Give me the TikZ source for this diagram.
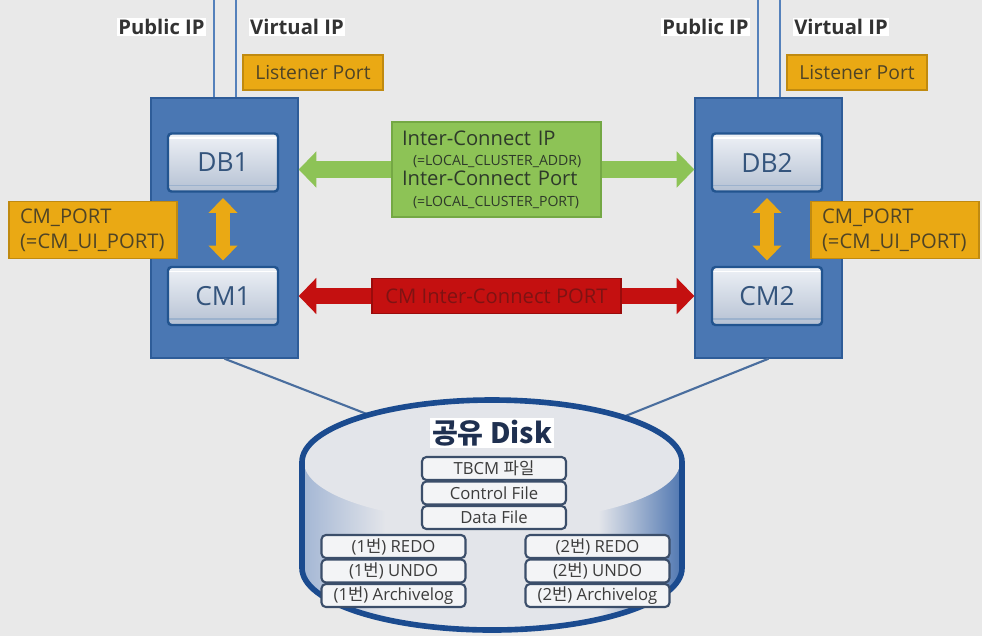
\documentclass[tikz,border=0pt]{standalone}
\usepackage{fontspec}
\setmainfont{Open Sans}
\newfontfamily\kr{Noto Sans CJK KR}
\usepackage{tikz}
\usetikzlibrary{arrows.meta, positioning}
\definecolor{bgGray}{HTML}{E9E9E9}
\definecolor{srvBlue}{HTML}{4A77B3}
\definecolor{srvEdge}{HTML}{2E5C98}
\definecolor{procTop}{HTML}{EEF1F6}
\definecolor{procBot}{HTML}{B5C1D3}
\definecolor{procEdge}{HTML}{22548F}
\definecolor{procText}{HTML}{34547C}
\definecolor{tagOrange}{HTML}{EAA914}
\definecolor{tagEdge}{HTML}{C08A10}
\definecolor{tagText}{HTML}{4F4426}
\definecolor{icGreen}{HTML}{8DC356}
\definecolor{icEdge}{HTML}{74A844}
\definecolor{icText}{HTML}{2E3A2A}
\definecolor{cmRed}{HTML}{C41010}
\definecolor{cmEdge}{HTML}{9A0B0B}
\definecolor{cmText}{HTML}{7E1313}
\definecolor{diskEdge}{HTML}{1B4B8F}
\definecolor{diskFace}{HTML}{E3E5EA}
\definecolor{diskTitle}{HTML}{1F3050}
\definecolor{sideL}{HTML}{A3B6D4}
\definecolor{sideR}{HTML}{5077B1}
\definecolor{fileFill}{HTML}{F3F4F6}
\definecolor{fileEdge}{HTML}{3B4E6A}
\definecolor{fileText}{HTML}{3C3C3C}
\definecolor{lineBlue}{HTML}{5581BB}
\definecolor{diskLine}{HTML}{4A6E9E}
\pgfdeclarehorizontalshading{disksides}{100bp}{color(0bp)=(sideL); color(25bp)=(sideL);
  color(36bp)=(diskFace); color(64bp)=(diskFace); color(75bp)=(sideR); color(100bp)=(sideR)}
\newcommand{\pxl}{0.02cm}

\begin{document}
\begin{tikzpicture}[x=0.02cm, y=-0.02cm, font=\fontsize{11}{13}\selectfont,
  server/.style={draw=srvEdge, fill=srvBlue, line width=0.8pt,
                 minimum width=147*\pxl, minimum height=260*\pxl},
  proc/.style={draw=procEdge, line width=1.4pt, rounded corners=2pt,
               top color=procTop, bottom color=procBot, text=procText,
               minimum width=110*\pxl, minimum height=58*\pxl, font=\fontsize{15}{17}\selectfont,
               path picture={\draw[white, line width=1pt] ([yshift=-2.5pt]path picture bounding box.north west)
                 -- ([yshift=-2.5pt]path picture bounding box.north east);
                 \draw[procEdge!45, line width=0.8pt] ([yshift=3.5pt]path picture bounding box.south west)
                 -- ([yshift=3.5pt]path picture bounding box.south east);}},
  tag/.style={draw=tagEdge, fill=tagOrange, text=tagText, line width=0.6pt},
  portbox/.style={tag, align=left, text width=146*\pxl, inner xsep=11*\pxl,
                  minimum height=57*\pxl, font=\fontsize{11.5}{14}\selectfont},
  iplabel/.style={fill=white, inner sep=0.6pt, text=black!80, font=\bfseries\fontsize{11.5}{13}\selectfont},
  ipline/.style={lineBlue, line width=1.2pt},
  portarrow/.style={tagOrange, line width=8.5pt, shorten <=3pt, shorten >=3pt,
                    {Triangle[length=8.5pt, width=16pt]}-{Triangle[length=8.5pt, width=16pt]}},
  icarrow/.style={icGreen, line width=10pt,
                  {Triangle[length=10pt, width=20pt]}-{Triangle[length=10pt, width=20pt]}},
  cmarrow/.style={cmRed, line width=9.5pt,
                  {Triangle[length=10pt, width=20pt]}-{Triangle[length=10pt, width=20pt]}},
  icbox/.style={draw=icEdge, fill=icGreen, text=icText, line width=0.6pt, align=left,
                text width=189*\pxl, inner xsep=10*\pxl, minimum height=95*\pxl,
                font=\fontsize{11.5}{11.5}\selectfont},
  cmicbox/.style={draw=cmEdge, fill=cmRed, text=cmText, line width=0.6pt,
                  minimum width=249*\pxl, minimum height=35*\pxl, font=\fontsize{11.5}{13}\selectfont},
  diskline/.style={diskLine, line width=1.2pt},
  diskfile/.style={draw=fileEdge, fill=fileFill, text=fileText, line width=1.2pt, rounded corners=2.5pt,
                   minimum width=144*\pxl, minimum height=23*\pxl, inner sep=0pt,
                   font=\fontsize{9.5}{11}\selectfont}]
  \fill[bgGray] (0,0) rectangle (982,636);
  \useasboundingbox (0,0) rectangle (982,636);

  \foreach \s/\x in {1/224.5, 2/768.5}{
    \node[server] (srv\s) at (\x,228) {};
    \node[proc] (db\s) at (\x-1.5,162.5) {DB\s};
    \node[proc] (cm\s) at (\x-1.5,296) {CM\s};
    \draw[portarrow] (db\s) -- (cm\s);
    \coordinate (pubtop\s) at (\x-10.5,0);
    \coordinate (viptop\s) at (\x+11.5,0);
    \draw[ipline] (pubtop\s) -- (pubtop\s |- srv\s.north);
    \draw[ipline] (viptop\s) -- (viptop\s |- srv\s.north);
    \node[iplabel] (pub\s) at (\x-63,27) {Public IP};
    \node[iplabel] (vip\s) at (\x+72.5,27) {Virtual IP};
    \node[tag, minimum width=140*\pxl, minimum height=35*\pxl] (lsn\s) at (\x+88.5,72.5) {Listener Port};
  }
  \node[portbox] (cmp1) at (93,230) {CM\_PORT\\(=CM\_UI\_PORT)};
  \node[portbox] (cmp2) at (895,230) {CM\_PORT\\(=CM\_UI\_PORT)};

  \coordinate (icrow) at (0,169.5);
  \draw[icarrow] (srv1.east |- icrow) -- node[icbox] (ic) {Inter-Connect IP\\
    \hspace*{0.22cm}{\fontsize{8}{11.5}\selectfont(=LOCAL\_CLUSTER\_ADDR)}\\
    Inter-Connect Port\\
    \hspace*{0.22cm}{\fontsize{8}{11.5}\selectfont(=LOCAL\_CLUSTER\_PORT)}} (srv2.west |- icrow);
  \draw[cmarrow] (srv1.east |- cm1) -- node[cmicbox] (cmic) {CM Inter-Connect PORT} (srv2.west |- cm2);

  % shared disk
  \coordinate (dlink1) at (372,416);
  \coordinate (dlink2) at (623,417);
  \draw[diskline] (srv1.south) -- (dlink1);
  \draw[diskline] (srv2.south) -- (dlink2);
  \fill[shading=disksides] (302,462) -- (302,568)
    arc[start angle=180, end angle=0, x radius=190, y radius=62] -- (682,462) -- cycle;
  \fill[diskFace] (492,462) ellipse[x radius=188, y radius=60];
  \draw[diskEdge, line width=3.2pt] (302,568) -- (302,462)
    arc[start angle=180, end angle=360, x radius=190, y radius=62] -- (682,568)
    arc[start angle=0, end angle=180, x radius=190, y radius=62] -- cycle;
  \node[fill=white, inner sep=1pt, text=diskTitle, font=\kr\bfseries\fontsize{16}{18}\selectfont]
    (disk) at (492,433) {공유 Disk};
  \foreach \t [count=\c from 0] in {TBCM {\kr 파일}, Control File, Data File}{
    \node[diskfile] (file\c) at (494,468.5+\c*24.5) {\t};}
  \foreach \s/\x in {1/393.5, 2/597.5}{
    \foreach \t [count=\c from 0] in {REDO, UNDO, Archivelog}{
      \node[diskfile] (log\s\c) at (\x,546.5+\c*24.5) {(\s{\kr 번}) \t};}}
\end{tikzpicture}
\end{document}
